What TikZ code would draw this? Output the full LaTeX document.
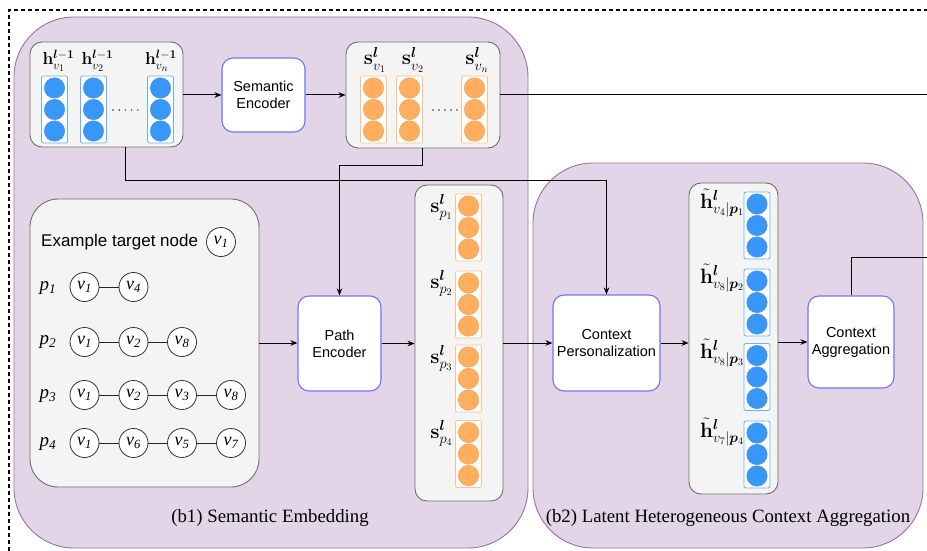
\documentclass[tikz,border=0pt]{standalone}
\usepackage[no-math]{fontspec}
\setmainfont{Liberation Serif}
\setsansfont{Liberation Sans}
\usepackage{bm}
\usetikzlibrary{arrows.meta}
\DeclareMathSizes{19.5}{19.5}{13.5}{10}
\DeclareMathSizes{18.5}{18.5}{13}{10}
\definecolor{purpfill}{HTML}{E1D5E7}
\definecolor{purpdraw}{HTML}{9673A6}
\definecolor{grayfill}{HTML}{F4F4F4}
\definecolor{graydraw}{HTML}{6E6E6E}
\definecolor{encdraw}{HTML}{7373FF}
\definecolor{bluefill}{HTML}{3797FB}
\definecolor{bluedraw}{HTML}{5C8CC8}
\definecolor{bcoldraw}{HTML}{66B2FF}
\definecolor{orangefill}{HTML}{FFAE5E}
\definecolor{orangedraw}{HTML}{E8A060}
\definecolor{ocoldraw}{HTML}{FFC08A}
\newcommand\vcol[4]{%
  \node[#4col] (#1) at (#2,#3) {};
  \node[#4dot] (#1-1) at (#2,#3-21.5) {};
  \node[#4dot] (#1-2) at (#2,#3) {};
  \node[#4dot] (#1-3) at (#2,#3+21.5) {};
}
\begin{document}
\begin{tikzpicture}[x=1pt,y=-1pt,
  panel/.style={draw=purpdraw, fill=purpfill, line width=0.9pt, rounded corners=60pt},
  graybox/.style={draw=graydraw, fill=grayfill, line width=0.9pt, rounded corners=12pt, inner sep=0pt},
  encbox/.style={draw=encdraw, fill=white, line width=1.1pt, rounded corners=11pt, align=center, inner sep=0pt, font=\sffamily\fontsize{14.5}{17}\selectfont},
  bcol/.style={draw=bcoldraw, fill=white, line width=0.8pt, rounded corners=2pt, minimum width=26pt, minimum height=67pt, inner sep=0pt},
  ocol/.style={draw=ocoldraw, fill=white, line width=0.8pt, rounded corners=2pt, minimum width=26pt, minimum height=67pt, inner sep=0pt},
  bdot/.style={circle, fill=bluefill, draw=bluedraw, line width=0.4pt, minimum size=20.5pt, inner sep=0pt},
  odot/.style={circle, fill=orangefill, draw=orangedraw, line width=0.4pt, minimum size=20.5pt, inner sep=0pt},
  pnode/.style={circle, draw=black!80, fill=white, line width=0.8pt, minimum size=29pt, inner sep=0pt, font=\fontsize{18}{18}\selectfont\itshape},
  plab/.style={inner sep=0pt, font=\fontsize{19}{19}\selectfont\itshape},
  lab/.style={inner sep=0pt, anchor=base, font=\fontsize{19.5}{22}\selectfont},
  hlab/.style={inner sep=0pt, anchor=base, font=\fontsize{18.5}{22}\selectfont},
  caption/.style={inner sep=0pt, font=\fontsize{18.8}{22}\selectfont},
  smalldot/.style={circle, fill=black!80, inner sep=0pt, minimum size=1.6pt},
  arr/.style={-{Stealth[length=7pt,width=5.5pt]}, line width=1pt},
  conn/.style={line width=1pt},
  plink/.style={line width=0.8pt, draw=black!85}
]
\useasboundingbox (0,0) rectangle (927,551);
% outer dashed frame
\coordinate (fbl) at (9,551);
\coordinate (ftl) at (9,10);
\coordinate (ftr) at (927,10);
\draw[line width=1.1pt, dash pattern=on 4pt off 3pt] (fbl) -- (ftl) -- (ftr);
% panels
\draw[panel] (14,17) rectangle (528,548);
\draw[panel] (533,163) rectangle (923,548);
\node[caption] (cap1) at (270,518) {(b1) Semantic Embedding};
\node[caption] (cap2) at (728,518) {(b2) Latent Heterogeneous Context Aggregation};
% h box
\node[graybox, minimum width=153pt, minimum height=105pt] (hbox) at (106.5,94.5) {};
\vcol{hc1}{54.5}{109.5}{b}
\vcol{hc2}{93.5}{109.5}{b}
\vcol{hcn}{160.5}{109.5}{b}
\foreach \i in {0,...,4} \node[smalldot] (hd\i) at (113+6.2*\i,110) {};
\node[hlab] (hl1) at (58.5,65) {$\mathbf{h}^{\bm{l}-\mathbf{1}}_{v_1}$};
\node[hlab] (hl2) at (97.5,65) {$\mathbf{h}^{\bm{l}-\mathbf{1}}_{v_2}$};
\node[hlab] (hln) at (161,65) {$\mathbf{h}^{\bm{l}-\mathbf{1}}_{v_n}$};
% semantic encoder
\node[encbox, minimum width=83pt, minimum height=74pt] (SE) at (263.5,95) {Semantic\\Encoder};
% s box
\node[graybox, minimum width=154pt, minimum height=106pt] (sbox) at (423,95) {};
\vcol{sc1}{373.5}{109.5}{o}
\vcol{sc2}{409.5}{109.5}{o}
\vcol{scn}{474.5}{109.5}{o}
\foreach \i in {0,...,4} \node[smalldot] (sd\i) at (433+6*\i,110) {};
\node[lab] (sl1) at (375,65) {$\mathbf{s}^{\bm{l}}_{v_1}$};
\node[lab] (sl2) at (413,65) {$\mathbf{s}^{\bm{l}}_{v_2}$};
\node[lab] (sln) at (477,65) {$\mathbf{s}^{\bm{l}}_{v_n}$};
% example box
\node[graybox, rounded corners=28pt, minimum width=229pt, minimum height=288pt] (ex) at (144.5,343) {};
\node[inner sep=0pt, anchor=west, font=\sffamily\fontsize{17}{20}\selectfont] (extext) at (41,242) {Example target node};
\node[pnode] (t1) at (221,242) {v\textsubscript{1}};
\node[plab] (pl1) at (48,288) {p\textsubscript{1}};
\node[plab] (pl2) at (48,342) {p\textsubscript{2}};
\node[plab] (pl3) at (48,396) {p\textsubscript{3}};
\node[plab] (pl4) at (48,444) {p\textsubscript{4}};
\node[pnode] (a1) at (84.5,287) {v\textsubscript{1}};
\node[pnode] (a2) at (133.5,287) {v\textsubscript{4}};
\node[pnode] (b1) at (84.5,342) {v\textsubscript{1}};
\node[pnode] (b2) at (133.5,342) {v\textsubscript{2}};
\node[pnode] (b3) at (182,342) {v\textsubscript{8}};
\node[pnode] (c1) at (84.5,395) {v\textsubscript{1}};
\node[pnode] (c2) at (133.5,395) {v\textsubscript{2}};
\node[pnode] (c3) at (182,395) {v\textsubscript{3}};
\node[pnode] (c4) at (231,395) {v\textsubscript{8}};
\node[pnode] (d1) at (84.5,443) {v\textsubscript{1}};
\node[pnode] (d2) at (133.5,443) {v\textsubscript{6}};
\node[pnode] (d3) at (182,443) {v\textsubscript{5}};
\node[pnode] (d4) at (231,443) {v\textsubscript{7}};
\draw[plink] (a1) -- (a2);
\draw[plink] (b1) -- (b2) -- (b3);
\draw[plink] (c1) -- (c2) -- (c3) -- (c4);
\draw[plink] (d1) -- (d2) -- (d3) -- (d4);
% path encoder
\node[encbox, minimum width=83pt, minimum height=95pt] (PE) at (339.5,343.5) {Path\\Encoder};
% s_p box
\node[graybox, minimum width=88pt, minimum height=316pt] (spbox) at (459,343) {};
\vcol{pc1}{468.5}{227.5}{o}
\vcol{pc2}{468.5}{304.5}{o}
\vcol{pc3}{468.5}{378.5}{o}
\vcol{pc4}{468.5}{454}{o}
\node[lab] (pl1s) at (441.5,212) {$\mathbf{s}^{\bm{l}}_{p_1}$};
\node[lab] (pl2s) at (441.5,288) {$\mathbf{s}^{\bm{l}}_{p_2}$};
\node[lab] (pl3s) at (441.5,363) {$\mathbf{s}^{\bm{l}}_{p_3}$};
\node[lab] (pl4s) at (441.5,438) {$\mathbf{s}^{\bm{l}}_{p_4}$};
% context personalization
\node[encbox, minimum width=107pt, minimum height=96pt] (CP) at (606.5,343) {Context\\Personalization};
% h tilde box
\node[graybox, minimum width=89pt, minimum height=311pt] (htbox) at (733.5,338.5) {};
\vcol{tc1}{757}{225.5}{b}
\vcol{tc2}{757}{302.5}{b}
\vcol{tc3}{757}{377}{b}
\vcol{tc4}{757}{454.5}{b}
\node[lab, anchor=base west] (tl1) at (700,208) {$\tilde{\mathbf{h}}^{\bm{l}}_{v_4|\bm{p}_1}$};
\node[lab, anchor=base west] (tl2) at (700,283) {$\tilde{\mathbf{h}}^{\bm{l}}_{v_8|\bm{p}_2}$};
\node[lab, anchor=base west] (tl3) at (700,358) {$\tilde{\mathbf{h}}^{\bm{l}}_{v_8|\bm{p}_3}$};
\node[lab, anchor=base west] (tl4) at (700,437) {$\tilde{\mathbf{h}}^{\bm{l}}_{v_7|\bm{p}_4}$};
% context aggregation
\node[encbox, minimum width=86pt, minimum height=92pt] (CA) at (851,342) {Context\\Aggregation};
% connectors
\coordinate (outA) at (927,95);
\coordinate (outB) at (927,257);
\draw[arr] (hbox.east |- SE.west) -- (SE.west);
\draw[arr] (SE.east) -- (SE.east -| sbox.west);
\draw[conn] (SE.east -| sbox.east) -- (outA);
\draw[arr] (hbox.south -| 125,0) -- (125,180) -- (CP.north |- 0,180) -- (CP.north);
\draw[arr] (sbox.south -| 422,0) -- (422,165) -- (PE.north |- 0,165) -- (PE.north);
\draw[arr] (ex.east) -- (ex.east -| PE.west);
\draw[arr] (PE.east) -- (PE.east -| spbox.west);
\draw[arr] (CP.west -| spbox.east) -- (CP.west);
\draw[arr] (CP.east) -- (CP.east -| htbox.west);
\draw[arr] (CA.west -| htbox.east) -- (CA.west);
\draw[conn] (CA.north) -- (CA.north |- outB) -- (outB);
\end{tikzpicture}
\end{document}
